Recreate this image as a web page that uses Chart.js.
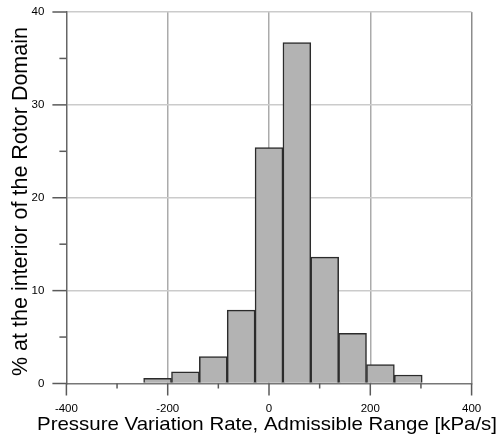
<!DOCTYPE html>
<html>
<head>
<meta charset="utf-8">
<script src="https://cdn.jsdelivr.net/npm/chart.js@4/dist/chart.umd.min.js"></script>
<style>
  html, body { margin: 0; padding: 0; background: #fff; }
  #wrap { width: 500px; height: 439px; }
</style>
</head>
<body>
<div id="wrap"><canvas id="histChart" width="500" height="439"></canvas></div>
<script>
// histogram bins (kPa/s), bin width 55
const binCenters = [-220, -165, -110, -55, 0, 55, 110, 165, 220, 275];
const percentValues = [0.56, 1.25, 2.9, 7.9, 25.4, 36.7, 13.6, 5.4, 2.05, 0.92];

// labelled ticks, the rest are minor
const xMajorTicks = [-400, -200, 0, 200, 400];
const yMajorTicks = [0, 10, 20, 30, 40];

const xTitle = 'Pressure Variation Rate, Admissible Range [kPa/s]';
const yTitle = '% at the interior of the Rotor Domain';
const axisColor = '#5a5a5a';

// tick marks drawn outside the plot area, long for labelled ticks, short for minor ones
const tickMarks = {
    id: 'tickMarks',
    afterDraw(chart) {
        const { ctx, chartArea, scales } = chart;
        ctx.save();
        ctx.strokeStyle = axisColor;
        ctx.lineWidth = 1.5;
        scales.x.ticks.forEach(t => {
            let px = scales.x.getPixelForValue(t.value);
            let len = xMajorTicks.includes(t.value) ? 12 : 5;
            ctx.beginPath();
            ctx.moveTo(px, chartArea.bottom);
            ctx.lineTo(px, chartArea.bottom + len);
            ctx.stroke();
        });
        scales.y.ticks.forEach(t => {
            let py = scales.y.getPixelForValue(t.value);
            let len = yMajorTicks.includes(t.value) ? 14 : 7;
            ctx.beginPath();
            ctx.moveTo(chartArea.left, py);
            ctx.lineTo(chartArea.left - len, py);
            ctx.stroke();
        });
        ctx.restore();
    }
};

// axis titles; the x one is wider than the plot area so the scales don't draw them
const axisTitles = {
    id: 'axisTitles',
    afterDraw(chart) {
        const { ctx } = chart;
        ctx.save();
        ctx.fillStyle = '#000';
        ctx.textAlign = 'center';
        ctx.textBaseline = 'alphabetic';

        ctx.font = '19px "Liberation Sans", Arial, sans-serif';
        let k = 460 / ctx.measureText(xTitle).width;
        ctx.save();
        ctx.translate(267, 430);
        ctx.scale(k, 1);
        ctx.fillText(xTitle, 0, 0);
        ctx.restore();

        ctx.font = '21.5px "Liberation Sans", Arial, sans-serif';
        ctx.translate(27, 201.5);
        ctx.rotate(-Math.PI / 2);
        ctx.fillText(yTitle, 0, 0);
        ctx.restore();
    }
};

new Chart(document.getElementById('histChart'), {
    type: 'bar',
    data: {
        datasets: [{
            data: binCenters.map((c, i) => ({ x: c, y: percentValues[i] })),
            backgroundColor: '#b3b3b3',
            borderColor: '#2b2b2b',
            borderWidth: 1.5,
            barPercentage: 1,
            categoryPercentage: 1
        }]
    },
    options: {
        responsive: false,
        animation: false,
        layout: { padding: { top: 12, right: 28.4, left: 0, bottom: 0 } },
        plugins: { legend: { display: false }, tooltip: { enabled: false } },
        scales: {
            x: {
                type: 'linear',
                min: -400,
                max: 400,
                offset: false,
                afterFit: scale => {
                    scale.height = 55.5;
                    scale.paddingLeft = 0;
                    scale.paddingRight = 0;
                },
                ticks: {
                    stepSize: 100,
                    padding: 18,
                    color: '#000',
                    font: { family: 'Liberation Sans', size: 11.5 },
                    maxRotation: 0,
                    callback: v => xMajorTicks.includes(v) ? String(v) : ''
                },
                grid: {
                    offset: false,
                    drawTicks: false,
                    lineWidth: 1.5,
                    color: ctx => {
                        let v = ctx.tick ? ctx.tick.value : null;
                        if (v === 400) return '#8c8c8c';
                        return (v === -200 || v === 0 || v === 200) ? '#ababab' : 'rgba(0,0,0,0)';
                    }
                },
                border: { color: '#777', width: 1.5 },
                title: { display: false }
            },
            y: {
                min: 0,
                max: 40,
                afterFit: scale => {
                    scale.width = 66.4;
                    scale.paddingTop = 0;
                    scale.paddingBottom = 0;
                },
                ticks: {
                    stepSize: 5,
                    padding: 22,
                    color: '#000',
                    font: { family: 'Liberation Sans', size: 11.5 },
                    callback: v => yMajorTicks.includes(v) ? String(v) : ''
                },
                grid: {
                    drawTicks: false,
                    lineWidth: 1.5,
                    color: ctx => {
                        let v = ctx.tick ? ctx.tick.value : null;
                        return (v > 0 && v % 10 === 0) ? '#cbcbcb' : 'rgba(0,0,0,0)';
                    }
                },
                border: { color: '#666', width: 1.5 },
                title: { display: false }
            }
        }
    },
    plugins: [tickMarks, axisTitles]
});
</script>
</body>
</html>
